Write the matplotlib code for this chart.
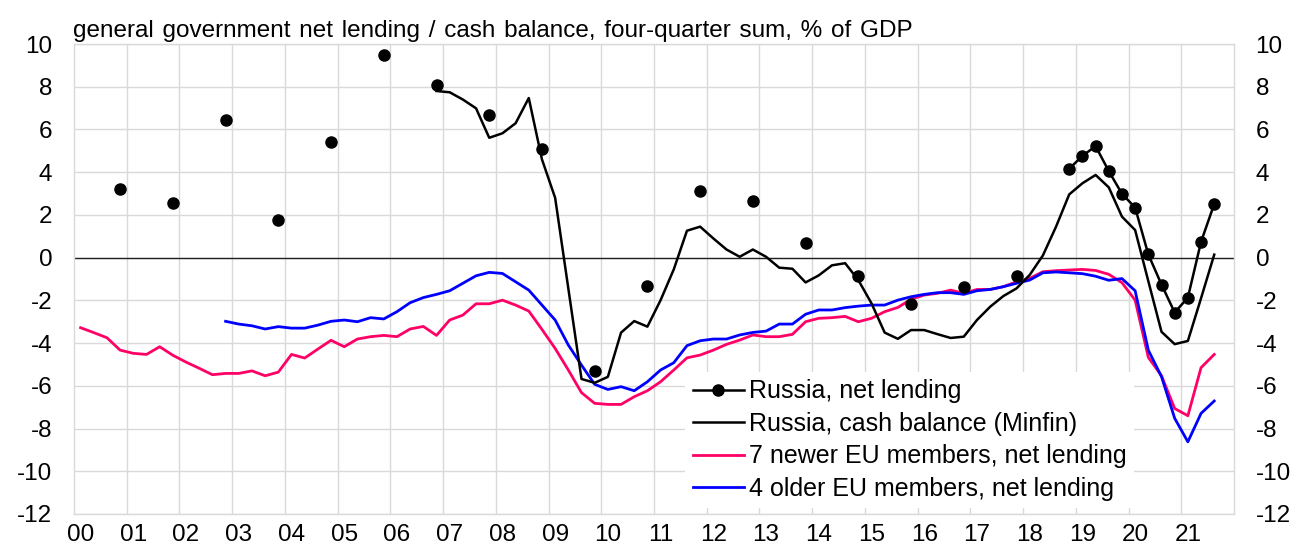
import matplotlib
matplotlib.use("Agg")
import matplotlib.pyplot as plt
import numpy as np

plt.rcParams['font.family'] = ['Liberation Sans', 'DejaVu Sans']
plt.rcParams['axes.unicode_minus'] = False

title = "general government net lending / cash balance, four-quarter sum, % of GDP"
start_year = 2000
n_quarters = 87  # 2000Q1 .. 2021Q3
year_labels = ["00", "01", "02", "03", "04", "05", "06", "07", "08", "09", "10",
               "11", "12", "13", "14", "15", "16", "17", "18", "19", "20", "21"]
y_ticks = [-12, -10, -8, -6, -4, -2, 0, 2, 4, 6, 8, 10]

N = None
russia_net_lending = [
    N, N, N, 3.21, N, N, N, 2.57, N, N, N, 6.43, N, N, N, 1.75,
    N, N, N, 5.41, N, N, N, 9.50, N, N, N, 8.08, N, N, N, 6.66,
    N, N, N, 5.07, N, N, N, -5.29, N, N, N, -1.33, N, N, N, 3.10,
    N, N, N, 2.64, N, N, N, 0.70, N, N, N, -0.85, N, N, N, -2.17,
    N, N, N, -1.38, N, N, N, -0.85, N, N, N, 4.16, 4.76, 5.22, 4.05, 2.99,
    2.34, 0.15, -1.26, -2.57, -1.87, 0.74, 2.51]

russia_cash_balance = [N] * 27 + [
    7.80, 7.74, 7.40, 6.99, 5.61, 5.82, 6.29, 7.47, 4.60, 2.80,
    -1.44, -5.68, -5.86, -5.58, -3.51, -2.97, -3.23, -1.99, -0.55, 1.26,
    1.45, 0.90, 0.38, 0.04, 0.38, 0.04, -0.47, -0.52, -1.16, -0.83,
    -0.36, -0.26, -1.05, -2.14, -3.51, -3.80, -3.39, -3.39, -3.58, -3.76,
    -3.70, -2.92, -2.30, -1.80, -1.44, -0.81, 0.10, 1.45, 2.96, 3.48,
    3.87, 3.29, 1.92, 1.29, -1.10, -3.47, -4.05, -3.90, -1.90, 0.14]

eu7_newer = [
    -3.28, -3.51, -3.75, -4.33, -4.48, -4.53, -4.17, -4.57, -4.89, -5.18,
    -5.48, -5.42, -5.42, -5.30, -5.53, -5.36, -4.53, -4.70, -4.28, -3.87,
    -4.17, -3.81, -3.70, -3.64, -3.70, -3.34, -3.22, -3.64, -2.92, -2.69,
    -2.16, -2.16, -1.99, -2.22, -2.50, -3.36, -4.25, -5.26, -6.32, -6.82,
    -6.87, -6.87, -6.51, -6.23, -5.81, -5.26, -4.69, -4.56, -4.33, -4.06,
    -3.86, -3.62, -3.70, -3.70, -3.59, -3.00, -2.84, -2.81, -2.75, -3.00,
    -2.84, -2.53, -2.33, -1.95, -1.75, -1.67, -1.52, -1.67, -1.49, -1.49,
    -1.36, -1.13, -0.97, -0.66, -0.61, -0.58, -0.55, -0.60, -0.78, -1.17,
    -1.99, -4.67, -5.53, -7.06, -7.40, -5.15, -4.53]

eu4_older = [N] * 11 + [
    -2.98, -3.11, -3.19, -3.34, -3.23, -3.30, -3.30, -3.16, -2.98,
    -2.92, -3.00, -2.81, -2.87, -2.53, -2.11, -1.87, -1.72, -1.55, -1.20,
    -0.85, -0.69, -0.74, -1.13, -1.52, -2.22, -2.92, -4.09, -5.03, -5.93,
    -6.17, -6.04, -6.23, -5.81, -5.26, -4.92, -4.12, -3.89, -3.81, -3.81,
    -3.62, -3.50, -3.44, -3.11, -3.11, -2.65, -2.45, -2.45, -2.34, -2.27,
    -2.22, -2.22, -1.99, -1.83, -1.72, -1.64, -1.64, -1.72, -1.55, -1.49,
    -1.36, -1.20, -1.05, -0.71, -0.67, -0.71, -0.75, -0.87, -1.06, -0.98,
    -1.55, -4.33, -5.57, -7.52, -8.62, -7.29, -6.71]


def arr(v):
    return np.array([np.nan if a is None else a for a in v], dtype=float)


x = np.arange(n_quarters)

fig = plt.figure(figsize=(12.95, 5.47), dpi=100)
ax = fig.add_axes([74 / 1295, 1 - 514 / 547, (1234 - 74) / 1295, (514 - 44) / 547])

grid_c = '#d9d9d9'
fs = 17.5
ax.set_xlim(-0.5, 87.5)
ax.set_ylim(-12, 10)
ax.set_yticks(y_ticks)
ax.set_yticklabels([str(t) for t in y_ticks])
ax.set_xticks(np.arange(0, 4 * len(year_labels), 4))
ax.set_xticklabels(year_labels)
ax.set_xticks(np.arange(3.5, 87.5, 4), minor=True)
ax.grid(True, which='minor', axis='x', color=grid_c, lw=1.0)
ax.grid(True, which='major', axis='y', color=grid_c, lw=1.0)
ax.set_axisbelow(True)
ax.tick_params(axis='y', which='both', left=False, right=False,
               labelleft=True, labelright=True, labelsize=fs, pad=12)
ax.tick_params(axis='x', which='both', bottom=False, top=False, labelsize=fs, pad=4)
for s in ax.spines.values():
    s.set_color(grid_c)
    s.set_linewidth(1.0)

ax.axhline(0, color='#222222', lw=1.0, zorder=1.5)

ax.plot(x, arr(russia_net_lending), color='black', lw=1.8, marker='o', ms=8,
        label='Russia, net lending', zorder=4)
ax.plot(x, arr(russia_cash_balance), color='black', lw=1.8,
        label='Russia, cash balance (Minfin)', zorder=3)
ax.plot(x, arr(eu7_newer), color='#ff0066', lw=2.0,
        label='7 newer EU members, net lending', zorder=2)
ax.plot(x, arr(eu4_older), color='#0000ff', lw=2.0,
        label='4 older EU members, net lending', zorder=2.5)

leg = ax.legend(loc='lower left', bbox_to_anchor=(0.527, 0.012), fontsize=18,
                frameon=True, facecolor='white', edgecolor='none', framealpha=1,
                fancybox=False, borderpad=0.3, handlelength=2.05, handletextpad=0.18,
                labelspacing=0.34, borderaxespad=0)
leg.set_zorder(10)

fig.text(73 / 1295, 1 - 37 / 547, title.replace(" ", " \u200a"), fontsize=17.5,
         ha='left', va='baseline')

fig.savefig('out.png', dpi=100)
